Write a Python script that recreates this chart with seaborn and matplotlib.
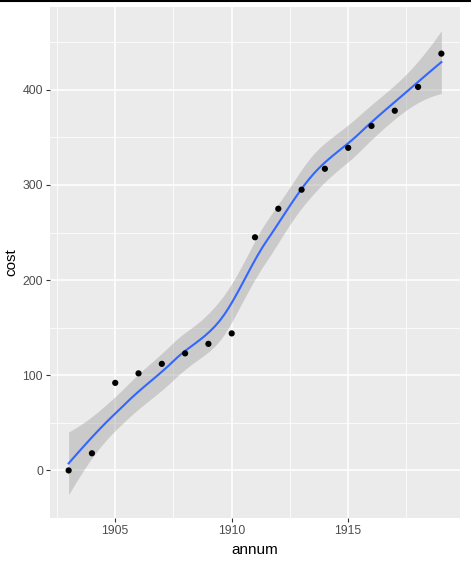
# 年ごとのコストと loess 平滑線（ggplot 風）

import numpy as np
import pandas as pd
import matplotlib
matplotlib.use('Agg')
import matplotlib.pyplot as plt
import seaborn as sns

# データ
annum = [1903, 1904, 1905, 1906, 1907, 1908, 1909, 1910, 1911,
         1912, 1913, 1914, 1915, 1916, 1917, 1918, 1919]
cost = [0, 18, 92, 102, 112, 123, 133, 144, 245,
        275, 295, 317, 339, 362, 378, 403, 438]
x_ticks = [1905, 1910, 1915]
y_ticks = [0, 100, 200, 300, 400]

df = pd.DataFrame({'annum': annum, 'cost': cost})


# 局所二次回帰 (span=0.75) の行: 値と傾き
def local_rows(x, x0, span=0.75):
    n = len(x)
    q = int(np.floor(n * span + 1e-5))
    d = np.abs(x - x0)
    h = np.sort(d)[q - 1]
    w = np.clip(1 - (d / h) ** 3, 0, None) ** 3
    dx = x - x0
    X = np.column_stack([np.ones(n), dx, dx ** 2])
    XtW = X.T * w
    B = np.linalg.solve(XtW @ X, XtW)
    return B[0], B[1]


# R の loess (surface="interpolate") をまねて頂点間をエルミート補間
def kd_vertices(xs, fc):
    xs = np.sort(xs)
    margin = 0.005 * (xs[-1] - xs[0])
    verts = [xs[0] - margin, xs[-1] + margin]

    def split(lo, hi):
        if hi - lo + 1 <= fc:
            return
        m = (lo + hi) // 2
        verts.append((xs[m] + xs[m + 1]) / 2)
        split(lo, m)
        split(m + 1, hi)

    split(0, len(xs) - 1)
    return np.sort(verts)


def loess_matrix(x, x_eval, span=0.75):
    fc = int(np.floor(len(x) * span * 0.2))
    v = kd_vertices(x, fc)
    vals, slopes = zip(*[local_rows(x, vx, span) for vx in v])
    vals, slopes = np.array(vals), np.array(slopes)
    rows = []
    for t in x_eval:
        i = min(max(np.searchsorted(v, t) - 1, 0), len(v) - 2)
        h = v[i + 1] - v[i]
        s = (t - v[i]) / h
        h00 = 2 * s ** 3 - 3 * s ** 2 + 1
        h10 = s ** 3 - 2 * s ** 2 + s
        h01 = -2 * s ** 3 + 3 * s ** 2
        h11 = s ** 3 - s ** 2
        rows.append(h00 * vals[i] + h10 * h * slopes[i]
                    + h01 * vals[i + 1] + h11 * h * slopes[i + 1])
    return np.array(rows)


def t_quantile(df_, z=1.959964):
    return (z + (z ** 3 + z) / (4 * df_)
            + (5 * z ** 5 + 16 * z ** 3 + 3 * z) / (96 * df_ ** 2)
            + (3 * z ** 7 + 19 * z ** 5 + 17 * z ** 3 - 15 * z) / (384 * df_ ** 3))


x = df['annum'].to_numpy(float)
y = df['cost'].to_numpy(float)
L = loess_matrix(x, x)
R = np.eye(len(x)) - L
M = R.T @ R
one_delta = np.trace(M)
two_delta = np.trace(M @ M)
sigma = np.sqrt(np.sum((R @ y) ** 2) / one_delta)
tq = t_quantile(one_delta ** 2 / two_delta)

grid = np.linspace(x.min(), x.max(), 80)
Lg = loess_matrix(x, grid)
fit = Lg @ y
se = sigma * np.sqrt(np.sum(Lg ** 2, axis=1))
smooth_df = pd.DataFrame({'annum': grid, 'cost': fit})

# 描画
plt.rcParams['font.family'] = ['Liberation Sans', 'DejaVu Sans']
fig = plt.figure(figsize=(4.71, 5.65), dpi=100)
ax = fig.add_axes([50 / 471, 1 - 518 / 565, 410 / 471, 511 / 565])
ax.set_facecolor('#EBEBEB')
for s in ax.spines.values():
    s.set_visible(False)

ax.fill_between(grid, fit - tq * se, fit + tq * se, color='#999999',
                alpha=0.4, linewidth=0, zorder=2)
sns.lineplot(data=smooth_df, x='annum', y='cost', color='#3366FF',
             linewidth=1.5, ax=ax, zorder=3)
sns.scatterplot(data=df, x='annum', y='cost', color='black', s=20,
                edgecolor='none', ax=ax, zorder=4)

ax.set_xlim(1902.2, 1919.8)
ax.set_ylim(-49.5, 487)
ax.set_xticks(x_ticks)
ax.set_yticks(y_ticks)
ax.set_xticks([1902.5, 1907.5, 1912.5, 1917.5], minor=True)
ax.set_yticks([-50, 50, 150, 250, 350, 450], minor=True)
ax.grid(which='major', color='white', linewidth=1.1, zorder=1)
ax.grid(which='minor', color='white', linewidth=0.55, zorder=1)
ax.set_axisbelow(True)
ax.tick_params(which='major', length=3, width=0.8, color='#333333',
               labelcolor='#4D4D4D', labelsize=8.8, pad=2)
ax.tick_params(which='minor', length=0)
ax.set_xlabel('annum', fontsize=11, color='black', labelpad=4)
ax.set_ylabel('cost', fontsize=11, color='black', labelpad=3)

# 上端の黒い線
fig.add_artist(plt.Line2D([0, 1], [0.998, 0.998], color='black',
                          linewidth=1.5, transform=fig.transFigure))

fig.savefig('out.png', dpi=100, facecolor='white')
